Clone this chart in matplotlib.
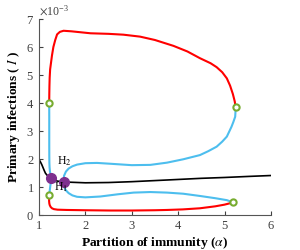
import matplotlib
matplotlib.use('Agg')
import matplotlib.pyplot as plt
from matplotlib.ticker import ScalarFormatter

plt.rcParams['font.family'] = ['Liberation Serif', 'DejaVu Serif']
plt.rcParams['mathtext.fontset'] = 'stix'

# branches of the bifurcation diagram (I in units of 1e-3)
red_up_x = [1.22, 1.222, 1.225, 1.23, 1.24, 1.26, 1.28, 1.31, 1.35, 1.39, 1.45, 1.53, 1.7, 2.11, 2.5, 2.82,
            3.18, 3.5, 3.9, 4.2, 4.47, 4.7, 4.83, 4.95, 5.05, 5.12, 5.18, 5.22, 5.24]
red_up_y = [3.99, 4.3, 4.6, 4.9, 5.2, 5.45, 5.7, 6.0, 6.25, 6.45, 6.54, 6.58, 6.56, 6.49, 6.47, 6.44,
            6.37, 6.25, 6.04, 5.84, 5.60, 5.42, 5.28, 5.1, 4.88, 4.62, 4.32, 4.06, 3.85]

red_lo_x = [1.218, 1.217, 1.218, 1.222, 1.23, 1.25, 1.28, 1.32, 1.4, 1.6, 2.0, 2.54, 3.0, 3.5, 3.76, 4.1,
            4.47, 4.8, 5.0, 5.19]
red_lo_y = [0.71, 0.6, 0.5, 0.42, 0.36, 0.29, 0.24, 0.21, 0.19, 0.18, 0.17, 0.16, 0.16, 0.17, 0.18, 0.20,
            0.24, 0.31, 0.37, 0.45]

cyan_l_x = [1.22, 1.221, 1.221, 1.221, 1.222, 1.224, 1.228, 1.236, 1.25, 1.26, 1.255, 1.245, 1.235, 1.226, 1.218]
cyan_l_y = [3.99, 3.5, 3.0, 2.5, 2.1, 1.85, 1.70, 1.55, 1.42, 1.31, 1.18, 1.05, 0.92, 0.80, 0.71]

cyan_r_x = [5.24, 5.235, 5.23, 5.19, 5.15, 5.05, 4.95, 4.83, 4.65, 4.47, 4.11, 3.76, 3.40, 3.0, 2.54, 2.25,
            2.0, 1.82, 1.72, 1.64, 1.58, 1.54, 1.53, 1.54, 1.58, 1.64, 1.72, 1.82, 2.0, 2.32, 2.7, 3.04,
            3.4, 3.76, 4.11, 4.47, 4.8, 5.05, 5.19]
cyan_r_y = [3.85, 3.65, 3.51, 3.32, 3.15, 2.80, 2.62, 2.44, 2.28, 2.14, 1.99, 1.87, 1.79, 1.78, 1.83, 1.86,
            1.85, 1.80, 1.74, 1.66, 1.55, 1.40, 1.19, 1.01, 0.88, 0.78, 0.70, 0.65, 0.63, 0.66, 0.74, 0.80,
            0.82, 0.80, 0.76, 0.68, 0.60, 0.53, 0.45]

black_x = [1.0, 1.03, 1.06, 1.08, 1.11, 1.14, 1.18, 1.21, 1.26, 1.32, 1.40, 1.53, 2.0, 2.5, 3.0, 3.76,
           4.5, 5.0, 5.55, 6.0]
black_y = [1.98, 1.90, 1.80, 1.72, 1.60, 1.49, 1.41, 1.37, 1.31, 1.25, 1.21, 1.18, 1.15, 1.16, 1.19, 1.25,
           1.31, 1.34, 1.38, 1.41]

hopf_x = [1.26, 1.53]
hopf_y = [1.31, 1.19]
fold_x = [1.22, 5.24, 1.218, 5.19]
fold_y = [3.99, 3.85, 0.71, 0.45]

fig = plt.figure(figsize=(3, 2.5), dpi=100)
ax = fig.add_axes([0.13, 0.14, 0.773, 0.784])

sc = 1e-3
ax.plot(black_x, [v * sc for v in black_y], color='k', lw=1.2)
ax.plot(cyan_l_x, [v * sc for v in cyan_l_y], color='#4DBEEE', lw=1.5)
ax.plot(cyan_r_x, [v * sc for v in cyan_r_y], color='#4DBEEE', lw=1.5)
ax.plot(red_up_x, [v * sc for v in red_up_y], color='#FF0000', lw=1.5)
ax.plot(red_lo_x, [v * sc for v in red_lo_y], color='#FF0000', lw=1.5)
ax.plot(fold_x, [v * sc for v in fold_y], 'o', ms=4.5, mfc='white', mec='#77AC30', mew=1.5, ls='none')
ax.plot(hopf_x, [v * sc for v in hopf_y], 'o', ms=7, color='#7E2F8E', ls='none')

ax.text(1.38, 1.80e-3, 'H$_2$', fontsize=8.5, va='baseline')
ax.text(1.33, 0.86e-3, 'H$_1$', fontsize=8.5, va='baseline')

ax.set_xlim(1, 6)
ax.set_ylim(0, 7e-3)
ax.set_xticks([1, 2, 3, 4, 5, 6])
ax.set_yticks([i * sc for i in range(8)])
fmt = ScalarFormatter(useMathText=True)
fmt.set_powerlimits((-3, -3))
ax.yaxis.set_major_formatter(fmt)
ax.yaxis.get_offset_text().set_fontsize(8.5)
ax.yaxis.get_offset_text().set_color('#404040')

for s in ['top', 'right']:
    ax.spines[s].set_visible(False)
for s in ['left', 'bottom']:
    ax.spines[s].set_color('#555555')
    ax.spines[s].set_linewidth(0.8)
ax.tick_params(direction='in', length=3, labelsize=9, colors='#404040', width=0.8)

ax.set_xlabel(r'Partition of immunity ($\alpha$)', fontsize=9.7, fontweight='bold', labelpad=2)
ax.set_ylabel(r'Primary infections ( $I$ )', fontsize=9.7, fontweight='bold', labelpad=3)

fig.savefig('out.png', dpi=100)
